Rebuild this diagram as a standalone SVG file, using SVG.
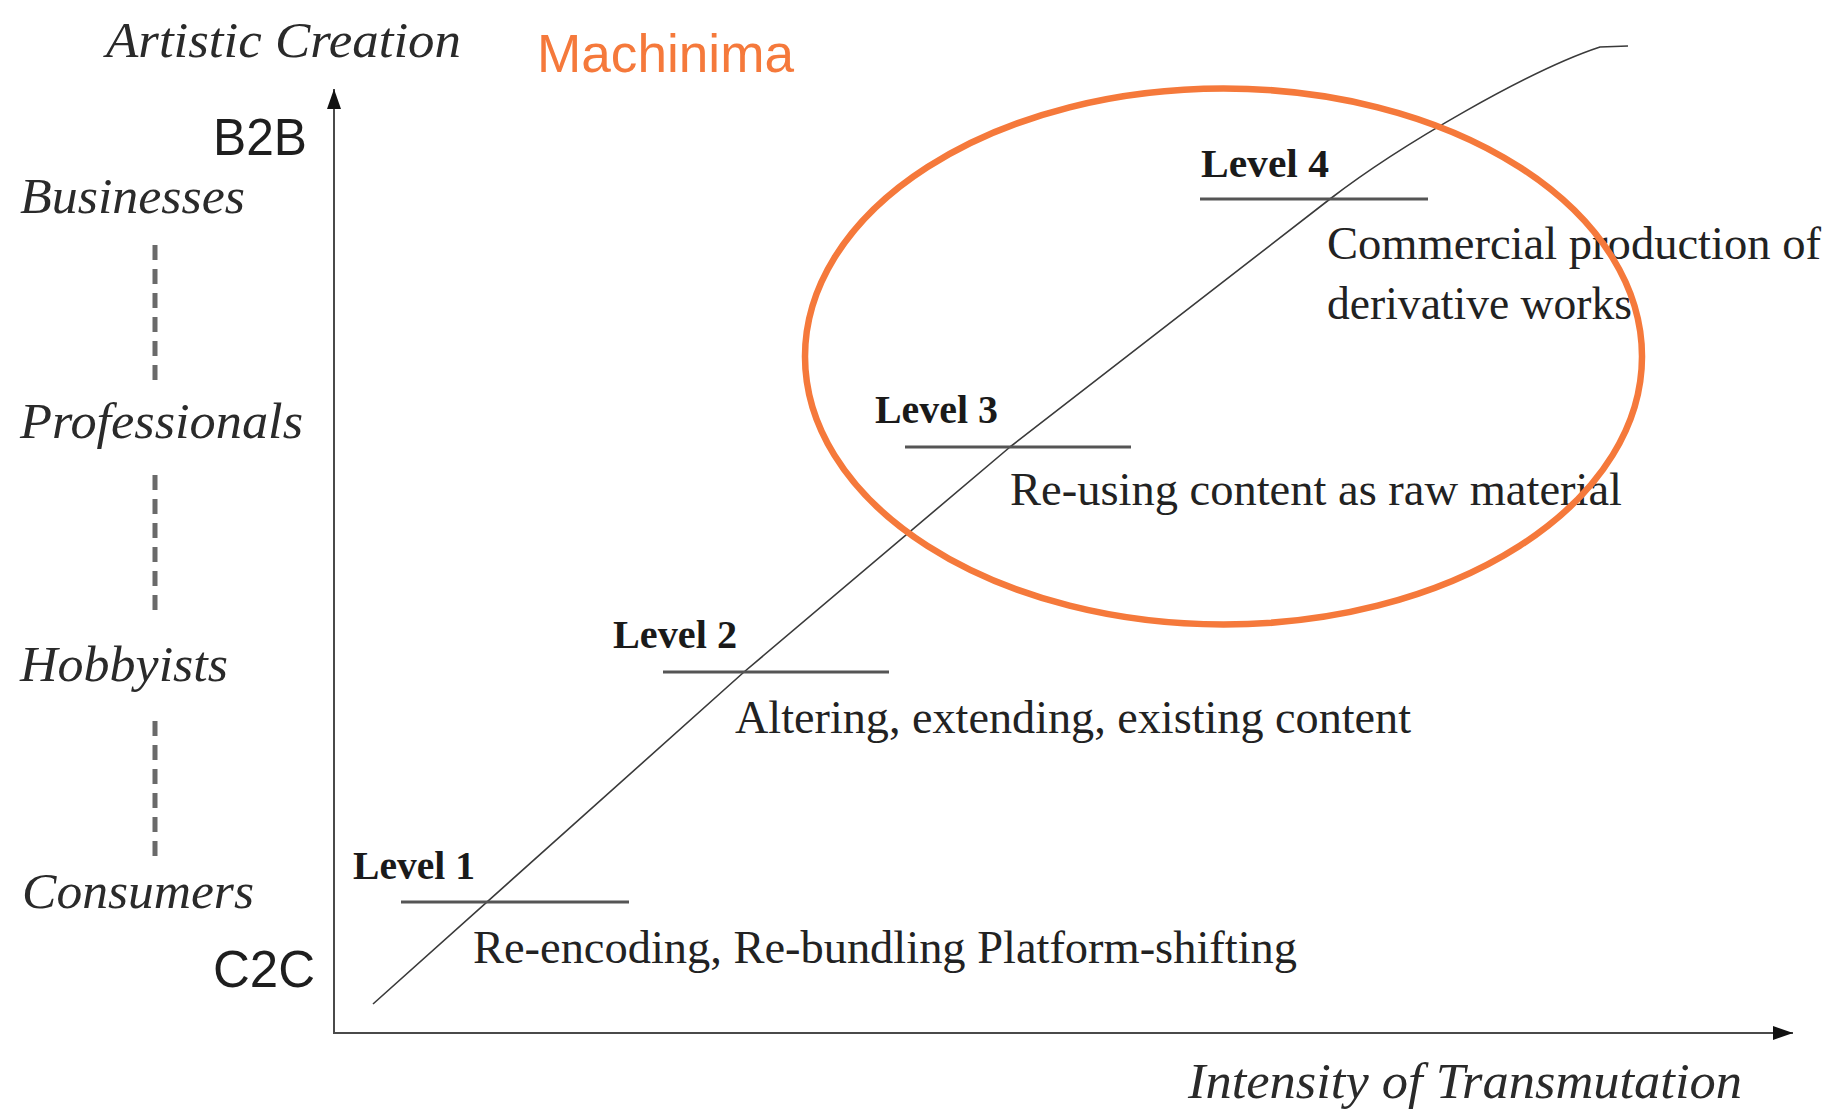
<svg xmlns="http://www.w3.org/2000/svg" width="1830" height="1110" viewBox="0 0 1830 1110">
  <style>
    .ital { font-family: "Liberation Serif", "Times New Roman", serif; font-style: italic; font-size: 50px; fill: #2a2a2a; }
    .sans { font-family: "Liberation Sans", Arial, sans-serif; font-size: 51px; fill: #1e1e1e; }
    .lvl { font-family: "Liberation Serif", "Times New Roman", serif; font-weight: bold; font-size: 40px; fill: #1a1a1a; }
    .body { font-family: "Liberation Serif", "Times New Roman", serif; font-size: 46px; fill: #222; }
    .orange { font-family: "Liberation Sans", Arial, sans-serif; font-size: 53px; fill: #F5793B; }
    .axis { stroke: #4a4a4a; stroke-width: 2; fill: none; }
    .uline { stroke: #555; stroke-width: 3; fill: none; }
    .dash { stroke: #6a6a6a; stroke-width: 5; stroke-dasharray: 15 9; fill: none; }
    .curve { stroke: #3a3a3a; stroke-width: 1.6; fill: none; stroke-linejoin: round; }
  </style>
  <defs>
    <marker id="arrow" viewBox="0 0 20 14" refX="20" refY="7" markerWidth="20" markerHeight="14" markerUnits="userSpaceOnUse" orient="auto">
      <path d="M0,0 L20,7 L0,14 z" fill="#111"/>
    </marker>
  </defs>
  <rect width="1830" height="1110" fill="#fff"/>

  <g id="connectors">
    <line id="y-axis" class="axis" x1="334" y1="1033" x2="334" y2="89" marker-end="url(#arrow)"/>
    <line id="x-axis" class="axis" x1="333" y1="1033" x2="1793" y2="1033" marker-end="url(#arrow)"/>
    <line id="dash1" class="dash" x1="155" y1="245" x2="155" y2="387"/>
    <line id="dash2" class="dash" x1="155" y1="475" x2="155" y2="616"/>
    <line id="dash3" class="dash" x1="155" y1="721" x2="155" y2="864"/>
    <path id="growth-curve" class="curve" d="M373,1004 L744,672 L1010,447 L1330,199 C1400,145 1530,70 1600,47 L1628,46"/>
  </g>

  <g id="axis-title-y"><text class="ital" x="106" y="57" textLength="355" lengthAdjust="spacingAndGlyphs">Artistic Creation</text></g>
  <g id="axis-title-x"><text class="ital" x="1188" y="1098" textLength="554" lengthAdjust="spacingAndGlyphs">Intensity of Transmutation</text></g>
  <g id="machinima"><text class="orange" x="537" y="72" textLength="257" lengthAdjust="spacingAndGlyphs">Machinima</text></g>
  <g id="b2b"><text class="sans" x="213" y="155" textLength="94" lengthAdjust="spacingAndGlyphs">B2B</text></g>
  <g id="c2c"><text class="sans" x="213" y="987" textLength="102" lengthAdjust="spacingAndGlyphs">C2C</text></g>

  <g id="businesses"><text class="ital" x="20" y="213" textLength="225" lengthAdjust="spacingAndGlyphs">Businesses</text></g>
  <g id="professionals"><text class="ital" x="20" y="438" textLength="283" lengthAdjust="spacingAndGlyphs">Professionals</text></g>
  <g id="hobbyists"><text class="ital" x="20" y="681" textLength="208" lengthAdjust="spacingAndGlyphs">Hobbyists</text></g>
  <g id="consumers"><text class="ital" x="22" y="908" textLength="232" lengthAdjust="spacingAndGlyphs">Consumers</text></g>

  <g id="level1">
    <text class="lvl" x="353" y="879" textLength="122" lengthAdjust="spacingAndGlyphs">Level 1</text>
    <line class="uline" x1="401" y1="902" x2="629" y2="902"/>
    <text class="body" x="473" y="963" textLength="824" lengthAdjust="spacingAndGlyphs">Re-encoding, Re-bundling Platform-shifting</text>
  </g>
  <g id="level2">
    <text class="lvl" x="613" y="648" textLength="124" lengthAdjust="spacingAndGlyphs">Level 2</text>
    <line class="uline" x1="663" y1="672" x2="889" y2="672"/>
    <text class="body" x="735" y="733" textLength="676" lengthAdjust="spacingAndGlyphs">Altering, extending, existing content</text>
  </g>
  <g id="level3">
    <text class="lvl" x="875" y="423" textLength="123" lengthAdjust="spacingAndGlyphs">Level 3</text>
    <line class="uline" x1="905" y1="447" x2="1131" y2="447"/>
    <text class="body" x="1010" y="505" textLength="612" lengthAdjust="spacingAndGlyphs">Re-using content as raw material</text>
  </g>
  <g id="level4">
    <text class="lvl" x="1201" y="177" textLength="128" lengthAdjust="spacingAndGlyphs">Level 4</text>
    <line class="uline" x1="1200" y1="199" x2="1428" y2="199"/>
    <text class="body" x="1327" y="259" textLength="494" lengthAdjust="spacingAndGlyphs">Commercial production of</text>
    <text class="body" x="1327" y="319" textLength="305" lengthAdjust="spacingAndGlyphs">derivative works</text>
  </g>

  <g id="machinima-ellipse">
    <ellipse cx="1223.5" cy="356.5" rx="418.5" ry="268" fill="none" stroke="#F5793B" stroke-width="6.5"/>
  </g>
</svg>
